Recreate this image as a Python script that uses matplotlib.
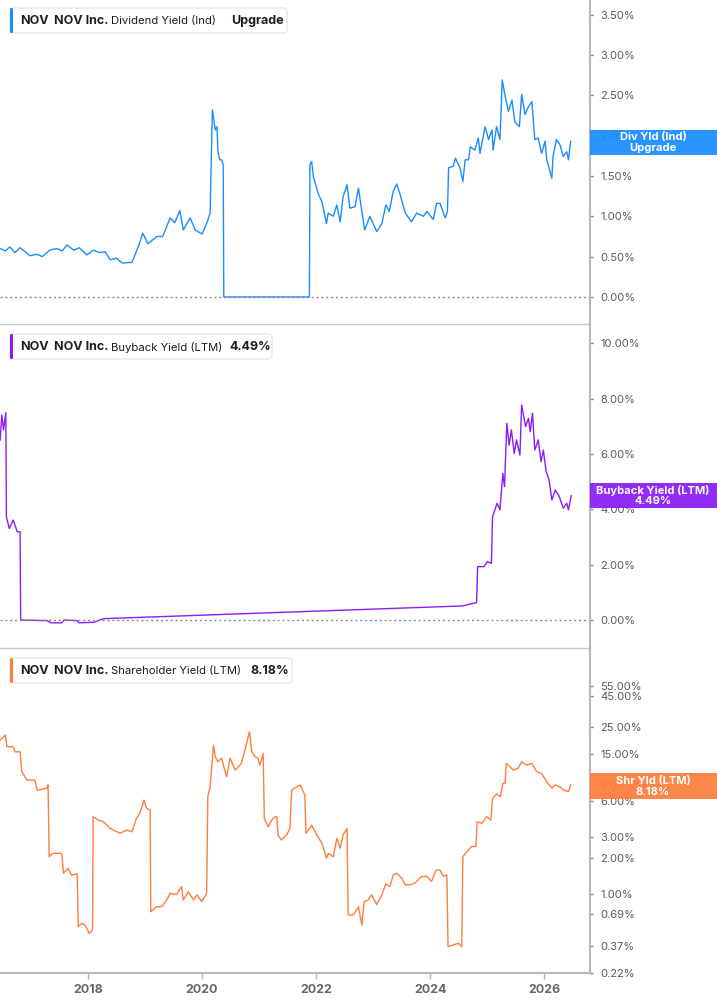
import matplotlib.pyplot as plt
from matplotlib.patches import FancyBboxPatch, Rectangle
from matplotlib.ticker import NullLocator

plt.rcParams['font.family'] = ['Inter', 'DejaVu Sans']

# ---- data (decimal year, percent) ----
div_t = [2016.46, 2016.55, 2016.63, 2016.72, 2016.81, 2016.90, 2016.98, 2017.10, 2017.20, 2017.33,
         2017.45, 2017.55, 2017.63, 2017.75, 2017.85, 2017.98, 2018.09, 2018.20, 2018.30, 2018.39,
         2018.50, 2018.60, 2018.77,
         2018.88, 2018.96, 2019.05, 2019.21, 2019.31, 2019.44, 2019.52, 2019.61, 2019.67, 2019.79,
         2019.88, 2020.00, 2020.09, 2020.14, 2020.18, 2020.23, 2020.26, 2020.28, 2020.31, 2020.34,
         2020.37, 2020.38, 2021.88, 2021.89, 2021.92, 2021.95, 2022.04, 2022.10, 2022.18, 2022.21,
         2022.30, 2022.36, 2022.42, 2022.47, 2022.54, 2022.59, 2022.68, 2022.74, 2022.80, 2022.85,
         2022.94, 2023.06, 2023.15, 2023.22, 2023.28, 2023.35, 2023.41, 2023.47, 2023.56, 2023.67,
         2023.76, 2023.88, 2023.94, 2024.05, 2024.11, 2024.17, 2024.26, 2024.30, 2024.32, 2024.40,
         2024.44, 2024.52, 2024.57, 2024.61, 2024.67, 2024.70, 2024.78, 2024.84, 2024.87, 2024.96,
         2025.02, 2025.08, 2025.10, 2025.16, 2025.22, 2025.26, 2025.31, 2025.37, 2025.43, 2025.48,
         2025.56, 2025.60, 2025.66, 2025.72, 2025.78, 2025.83, 2025.89, 2025.95, 2026.01, 2026.04,
         2026.13, 2026.15, 2026.21, 2026.27, 2026.33, 2026.39, 2026.42, 2026.46]
div_v = [0.60, 0.57, 0.62, 0.55, 0.61, 0.56, 0.51, 0.53, 0.50, 0.58,
         0.60, 0.57, 0.645, 0.58, 0.61, 0.52, 0.58, 0.55, 0.56, 0.46,
         0.48, 0.42, 0.43,
         0.62, 0.79, 0.66, 0.75, 0.75, 0.98, 0.92, 1.07, 0.83, 0.98,
         0.83, 0.78, 0.93, 1.04, 2.32, 2.07, 2.11, 1.79, 1.70, 1.70,
         1.64, 0.0, 0.0, 1.64, 1.68, 1.49, 1.27, 1.18, 0.91, 1.04,
         1.00, 1.14, 0.93, 1.24, 1.39, 1.10, 1.12, 1.35, 1.06, 0.83,
         1.00, 0.81, 0.91, 1.14, 1.06, 1.31, 1.40, 1.27, 1.04, 0.93,
         1.04, 1.00, 1.06, 0.96, 1.16, 1.16, 0.98, 1.06, 1.60, 1.62,
         1.72, 1.60, 1.43, 1.70, 1.70, 1.86, 1.82, 1.97, 1.78, 2.11,
         1.95, 2.07, 1.82, 2.11, 1.95, 2.69, 2.49, 2.30, 2.44, 2.17,
         2.11, 2.51, 2.26, 2.36, 2.42, 1.95, 1.97, 1.78, 1.93, 1.70,
         1.47, 1.74, 1.95, 1.89, 1.74, 1.80, 1.70, 1.93]

buy_t = [2016.46, 2016.49, 2016.52, 2016.56, 2016.57, 2016.62, 2016.69, 2016.76, 2016.81, 2016.82,
         2017.28, 2017.35, 2017.54, 2017.58, 2017.81, 2017.84, 2018.11, 2018.27, 2018.96, 2024.57,
         2024.68, 2024.81, 2024.83, 2024.94, 2025.00, 2025.07, 2025.09, 2025.17, 2025.22, 2025.27,
         2025.30, 2025.34, 2025.38, 2025.42, 2025.47, 2025.51, 2025.57, 2025.60, 2025.67, 2025.72,
         2025.75, 2025.79, 2025.83, 2025.89, 2025.94, 2025.98, 2026.03, 2026.08, 2026.13, 2026.19,
         2026.26, 2026.33, 2026.39, 2026.42, 2026.47]
buy_v = [6.50, 7.41, 6.87, 7.49, 3.73, 3.31, 3.61, 3.19, 3.19, 0.0,
         -0.02, -0.10, -0.10, 0.0, -0.02, -0.10, -0.08, 0.05, 0.10, 0.51,
         0.57, 0.63, 1.93, 1.93, 2.11, 2.05, 3.73, 4.22, 3.98, 5.30,
         4.82, 7.11, 6.32, 6.87, 6.02, 6.51, 5.96, 7.77, 6.99, 7.29,
         6.80, 7.47, 6.14, 6.51, 5.72, 6.14, 5.36, 5.06, 4.34, 4.70,
         4.46, 4.04, 4.22, 3.98, 4.49]

shr_t = [2016.46, 2016.55, 2016.58, 2016.69, 2016.72, 2016.81, 2016.84, 2016.93, 2017.07, 2017.11,
         2017.28, 2017.30, 2017.32, 2017.39, 2017.54, 2017.57, 2017.65, 2017.71, 2017.81, 2017.83,
         2017.89, 2017.95, 2018.02, 2018.08, 2018.09, 2018.18, 2018.27, 2018.39, 2018.56, 2018.68,
         2018.77, 2018.85, 2018.91, 2018.98, 2019.03, 2019.09, 2019.10, 2019.20, 2019.29, 2019.38,
         2019.44, 2019.55, 2019.64, 2019.67, 2019.76, 2019.85, 2019.91, 2019.99, 2020.08, 2020.10,
         2020.14, 2020.20, 2020.23, 2020.28, 2020.34, 2020.43, 2020.49, 2020.58, 2020.69, 2020.75,
         2020.83, 2020.87, 2020.93, 2020.98, 2021.01, 2021.07, 2021.09, 2021.16, 2021.22, 2021.28,
         2021.31, 2021.33, 2021.39, 2021.48, 2021.54, 2021.57, 2021.66, 2021.72, 2021.80, 2021.82,
         2021.92, 2022.01, 2022.10, 2022.18, 2022.21, 2022.30, 2022.36, 2022.42, 2022.47, 2022.54,
         2022.56, 2022.65, 2022.74, 2022.80, 2022.84, 2022.91, 2022.97, 2023.06, 2023.15, 2023.22,
         2023.29, 2023.35, 2023.41, 2023.50, 2023.56, 2023.64, 2023.73, 2023.79, 2023.85, 2023.94,
         2024.02, 2024.10, 2024.17, 2024.23, 2024.29, 2024.31, 2024.40, 2024.49, 2024.55, 2024.57,
         2024.64, 2024.72, 2024.80, 2024.82, 2024.90, 2024.99, 2025.06, 2025.09, 2025.16, 2025.23,
         2025.27, 2025.31, 2025.33, 2025.40, 2025.45, 2025.54, 2025.60, 2025.69, 2025.78, 2025.86,
         2025.95, 2026.04, 2026.13, 2026.19, 2026.27, 2026.33, 2026.42, 2026.46]
shr_v = [19.4, 21.4, 17.1, 17.1, 15.5, 15.5, 10.6, 9.0, 9.0, 7.4,
         7.7, 8.2, 2.06, 2.2, 2.2, 1.50, 1.65, 1.45, 1.48, 0.536,
         0.571, 0.553, 0.472, 0.503, 4.45, 4.17, 4.04, 3.55, 3.23, 3.44,
         3.33, 4.31, 4.74, 6.12, 5.22, 5.06, 0.715, 0.787, 0.787, 0.895,
         1.02, 0.994, 1.16, 0.895, 1.05, 0.895, 0.99, 0.867, 1.02, 6.53,
         7.91, 17.6, 14.1, 12.8, 13.7, 9.6, 13.7, 10.9, 12.4, 16.0,
         22.8, 15.5, 14.1, 13.7, 12.0, 15.0, 4.31, 3.67, 4.17, 4.45,
         4.45, 3.13, 2.84, 3.13, 3.55, 7.43, 7.91, 8.2, 6.75, 3.23,
         3.78, 3.13, 2.67, 2.0, 2.2, 2.06, 2.93, 2.42, 3.13, 3.55,
         0.672, 0.672, 0.787, 0.553, 0.867, 0.895, 0.99, 0.82, 0.99, 1.22,
         1.16, 1.45, 1.50, 1.36, 1.20, 1.20, 1.24, 1.32, 1.41, 1.41,
         1.28, 1.59, 1.59, 1.41, 1.45, 0.365, 0.377, 0.39, 0.365, 2.06,
         2.27, 2.50, 2.52, 4.04, 3.92, 4.45, 4.17, 6.32, 6.87, 6.53,
         8.45, 8.45, 12.4, 11.6, 10.9, 11.3, 12.8, 12.0, 12.4, 10.6,
         10.2, 8.7, 7.7, 8.2, 7.91, 7.43, 7.2, 8.18]

div_ticks = [0, 0.5, 1.0, 1.5, 2.0, 2.5, 3.0, 3.5]
buy_ticks = [0, 2, 4, 6, 8, 10]
shr_ticks = [0.22, 0.37, 0.69, 1, 2, 3, 6, 8, 15, 25, 45, 55]
year_ticks = [2018, 2020, 2022, 2024, 2026]

BLUE = '#1a8cff'
PURPLE = '#8b1cf5'
ORANGE = '#ff7d3d'
GRID = '#b8b8b8'
TXT = '#5a5a5a'

fig = plt.figure(figsize=(7.17, 10.05), dpi=100)
W, H = 717.0, 1005.0

def panel(top, bottom):
    return fig.add_axes([0, 1 - bottom / H, 590 / W, (bottom - top) / H])

ax1 = panel(0, 324)
ax2 = panel(325, 648)
ax3 = panel(649, 973)

ax1.plot(div_t, div_v, color=BLUE, lw=1.0)
ax2.plot(buy_t, buy_v, color=PURPLE, lw=1.0)
ax3.plot(shr_t, shr_v, color=ORANGE, lw=1.0)

ax1.set_ylim(-0.335, 3.68)
ax2.set_ylim(-1.01, 10.66)
ax3.set_yscale('log')
ax3.set_ylim(0.22, 112)

ax1.set_yticks(div_ticks)
ax1.set_yticklabels(['%.2f%%' % v for v in div_ticks])
ax2.set_yticks(buy_ticks)
ax2.set_yticklabels(['%.2f%%' % v for v in buy_ticks])
ax3.set_yticks(shr_ticks)
ax3.set_yticklabels(['%.2f%%' % v for v in shr_ticks])
ax3.yaxis.set_minor_locator(NullLocator())

for ax in (ax1, ax2):
    ax.axhline(0, color='#8a8a8a', lw=1, ls=(0, (1.5, 2)))

for ax in (ax1, ax2, ax3):
    ax.set_xlim(2016.458, 2026.798)
    ax.set_facecolor('none')
    ax.spines['top'].set_visible(False)
    ax.spines['left'].set_visible(False)
    ax.spines['right'].set_color(GRID)
    ax.spines['right'].set_linewidth(1.5)
    ax.spines['bottom'].set_color('#c8c8c8')
    ax.spines['bottom'].set_linewidth(1)
    ax.yaxis.tick_right()
    ax.tick_params(axis='y', length=2.5, width=1, color='#808080',
                   labelcolor=TXT, labelsize=8, pad=5)
    ax.set_xticks(year_ticks)

for ax in (ax1, ax2):
    ax.tick_params(axis='x', bottom=False, labelbottom=False)

ax3.set_xticklabels([str(y) for y in year_ticks])
ax3.spines['bottom'].set_color(GRID)
ax3.spines['bottom'].set_linewidth(1.5)
ax3.tick_params(axis='x', length=4, width=1, color=GRID, labelcolor='#666666',
                labelsize=9, pad=4)
for lab in ax3.get_xticklabels():
    lab.set_fontweight('bold')

# overlay in pixel coordinates for header boxes and value tags
ov = fig.add_axes([0, 0, 1, 1])
ov.set_xlim(0, W)
ov.set_ylim(H, 0)
ov.axis('off')

headers = [
    (8, 287, BLUE, 'Dividend Yield (Ind)', 'Upgrade', 231),
    (334, 272, PURPLE, 'Buyback Yield (LTM)', '4.49%', 229),
    (658, 292, ORANGE, 'Shareholder Yield (LTM)', '8.18%', 250),
]
for y0, x1, col, name, val, vx in headers:
    ov.add_patch(FancyBboxPatch((10, y0), x1 - 10, 25,
                                boxstyle='round,pad=0,rounding_size=3',
                                fc='white', ec='#e4e4e4', lw=0.8))
    ov.add_patch(FancyBboxPatch((10, y0), 3, 25,
                                boxstyle='round,pad=0,rounding_size=1.2',
                                fc=col, ec='none'))
    cy = y0 + 13
    ov.text(20, cy, 'NOV', fontsize=9, fontweight='bold', color='#1c1c28', va='center')
    ov.text(54, cy, 'NOV Inc.', fontsize=9, fontweight='bold', color='#1c1c28', va='center')
    ov.text(111, cy, name, fontsize=8.1, color='#1c1c28', va='center')
    ov.text(vx, cy, val, fontsize=9, fontweight='bold', color='#1c1c28', va='center')

# value tags sit over the axis labels, slightly see-through like the original
tags = [
    (130, 155, BLUE, 'Div Yld (Ind)', 'Upgrade'),
    (483, 508, PURPLE, 'Buyback Yield (LTM)', '4.49%'),
    (773, 799, ORANGE, 'Shr Yld (LTM)', '8.18%'),
]
for t0, t1, col, l1, l2 in tags:
    ov.add_patch(Rectangle((590, t0), 127, t1 - t0, fc=col, ec='none', alpha=0.93))
    mid = (t0 + t1) / 2
    ov.text(653, mid - 5.5, l1, fontsize=8, fontweight='bold', color='white',
            ha='center', va='center')
    ov.text(653, mid + 5.5, l2, fontsize=8, fontweight='bold', color='white',
            ha='center', va='center')

fig.savefig('out.png', dpi=100)
